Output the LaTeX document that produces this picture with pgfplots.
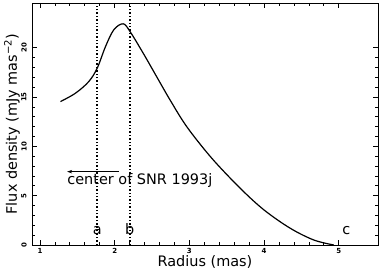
\documentclass[border=0pt]{standalone}
\usepackage{fontspec}
\setmainfont{DejaVu Sans}
\usepackage{pgfplots}
\pgfplotsset{compat=1.18}
\usetikzlibrary{calc,arrows.meta}

\begin{document}
\begin{tikzpicture}
\begin{axis}[
  scale only axis,
  width=346bp, height=242bp,
  xmin=0.893, xmax=5.525,
  ymin=0, ymax=24.55,
  xtick={1,2,3,4,5}, ytick={0,5,10,15,20},
  minor x tick num=4, minor y tick num=4,
  tick align=inside,
  major tick length=5bp, minor tick length=3bp,
  axis line style={line width=0.9bp},
  every tick/.style={line width=0.8bp,black},
  /pgf/number format/assume math mode=true,
  xticklabel style={font=\fontsize{7}{8}\selectfont\bfseries, anchor=center},
  xticklabel shift=6bp,
  yticklabel style={font=\fontsize{7}{8}\selectfont\bfseries, rotate=90, anchor=center},
  yticklabel shift=8bp,
  xlabel={Radius (mas)},
  ylabel={Flux density (mJy mas\textsuperscript{−2})},
  label style={font=\fontsize{14.5}{16}\selectfont},
  xlabel style={at={(axis description cs:0.5,-0.07)}, anchor=center},
  ylabel style={at={(axis description cs:-0.058,0.5)}, anchor=center},
  clip=false,
]
\addplot[black, line width=1.2bp, smooth, tension=0.55] coordinates {
  (1.274,14.55) (1.475,15.40) (1.653,16.58) (1.766,17.94)
  (1.877,20.13) (1.988,21.83) (2.114,22.44) (2.21,21.6)
  (2.39,19.35) (2.56,17.1) (2.75,14.6) (2.97,11.95)
  (3.30,8.8) (3.68,5.76) (4.00,3.55) (4.35,1.70)
  (4.665,0.51) (4.933,0.0)
};
\addplot[black, line width=1.5bp, dash pattern=on 1.4bp off 2.0bp] coordinates {(1.766,0) (1.766,24.55)};
\addplot[black, line width=1.5bp, dash pattern=on 1.4bp off 2.0bp] coordinates {(2.202,0) (2.202,24.55)};
\draw[-{Stealth[length=5bp,width=3.5bp]}, line width=0.7bp] (axis cs:2.055,7.44) -- (axis cs:1.364,7.44);
\node[anchor=west, inner sep=0pt, font=\fontsize{14.5}{16}\selectfont] at (axis cs:1.364,6.55) {center of SNR 1993j};
\node[font=\fontsize{14.5}{16}\selectfont, inner sep=0pt] at (axis cs:1.766,1.45) {a};
\node[font=\fontsize{14.5}{16}\selectfont, inner sep=0pt] at (axis cs:2.202,1.65) {b};
\node[font=\fontsize{14.5}{16}\selectfont, inner sep=0pt] at (axis cs:5.10,1.45) {c};
\coordinate (sw) at (rel axis cs:0,0);
\coordinate (ne) at (rel axis cs:1,1);
\end{axis}
\pgfresetboundingbox
\path[use as bounding box] ($(sw)+(-32bp,-28bp)$) rectangle ($(ne)+(4bp,3bp)$);
\end{tikzpicture}
\end{document}
